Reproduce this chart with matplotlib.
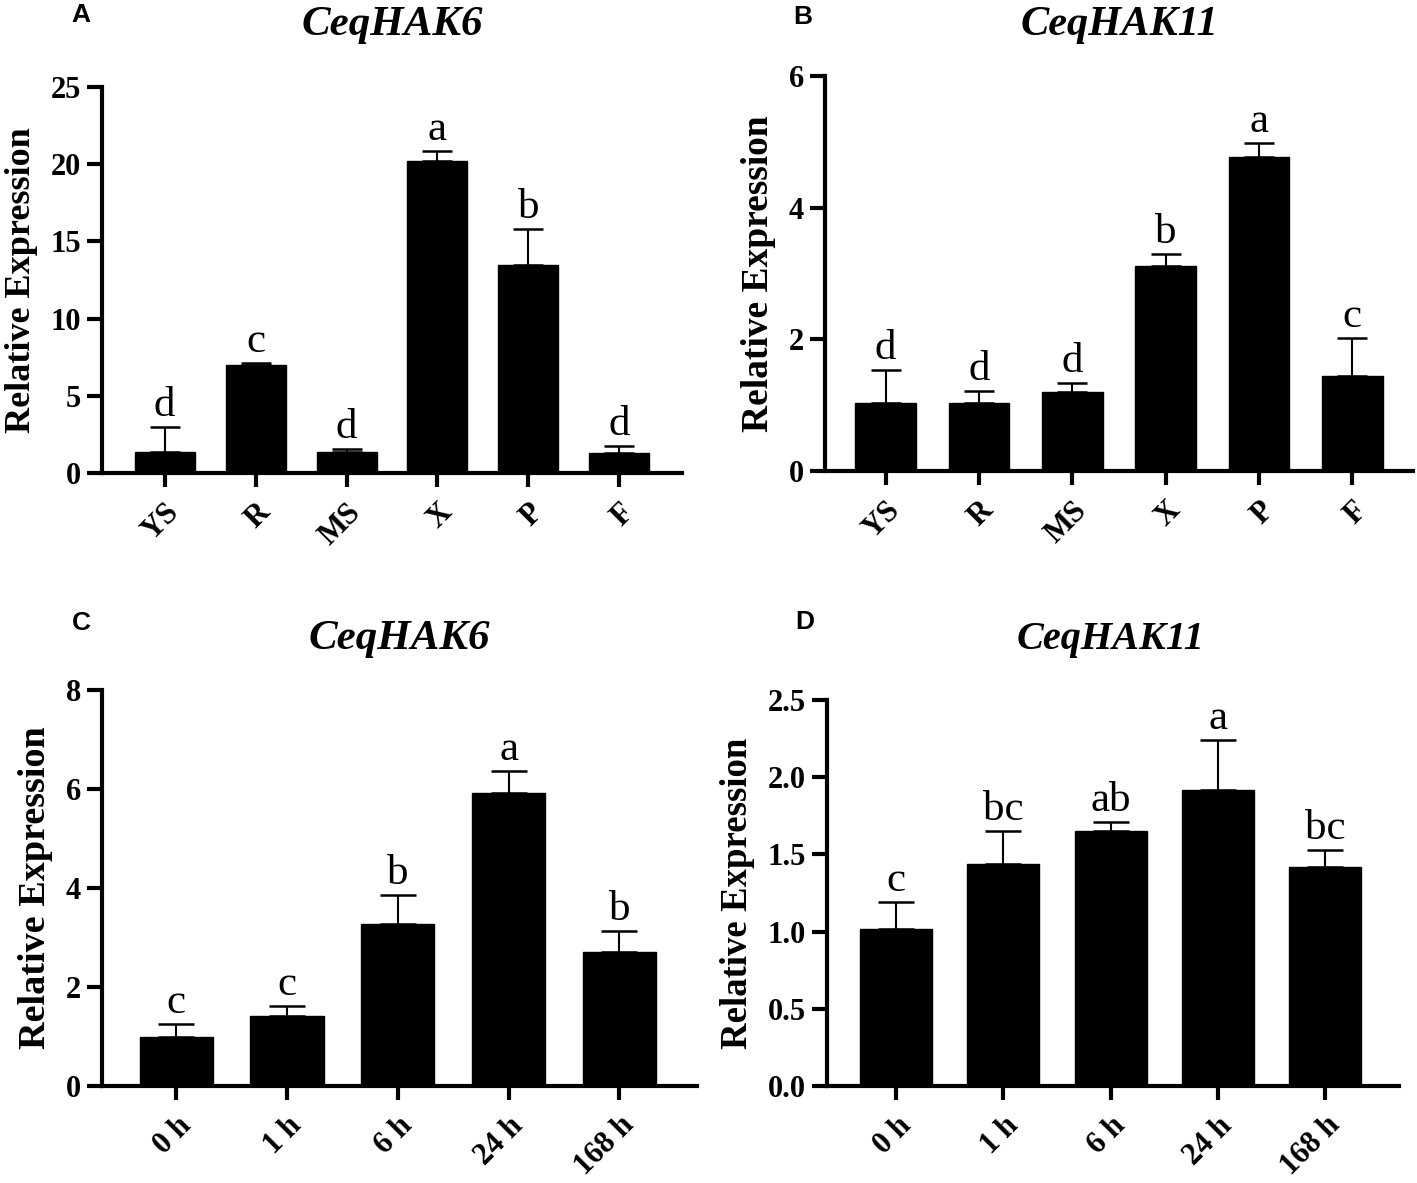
import matplotlib
matplotlib.use("Agg")
import matplotlib.pyplot as plt
import numpy as np

plt.rcParams["font.family"] = ["Liberation Serif", "DejaVu Serif"]

tissues = ["YS", "R", "MS", "X", "P", "F"]
times = ["0 h", "1 h", "6 h", "24 h", "168 h"]

# panel A: CeqHAK6 in tissues
hak6_tissue = [1.38, 7.0, 1.38, 20.2, 13.5, 1.28]
hak6_tissue_err = [1.6, 0.13, 0.2, 0.65, 2.3, 0.48]
hak6_tissue_sig = ["d", "c", "d", "a", "b", "d"]

# panel B: CeqHAK11 in tissues
hak11_tissue = [1.04, 1.03, 1.2, 3.11, 4.77, 1.45]
hak11_tissue_err = [0.49, 0.19, 0.13, 0.19, 0.21, 0.57]
hak11_tissue_sig = ["d", "d", "d", "b", "a", "c"]

# panel C: CeqHAK6 over time
hak6_time = [1.0, 1.42, 3.27, 5.92, 2.71]
hak6_time_err = [0.25, 0.2, 0.58, 0.45, 0.42]
hak6_time_sig = ["c", "c", "b", "a", "b"]

# panel D: CeqHAK11 over time
hak11_time = [1.02, 1.44, 1.65, 1.92, 1.42]
hak11_time_err = [0.17, 0.21, 0.06, 0.32, 0.11]
hak11_time_sig = ["c", "bc", "ab", "a", "bc"]

W, H = 1417, 1183
fig = plt.figure(figsize=(W / 100, H / 100), dpi=100)


def px_axes(l, r, t, b):
    return fig.add_axes([l / W, 1 - b / H, (r - l) / W, (b - t) / H])


def bar_panel(ax, labels, vals, errs, sig, ymax, yticks, xlim, width,
              capsize, ylab_size, fmt=None):
    x = np.arange(len(labels))
    ax.bar(x, vals, width=width, color="black", edgecolor="black", zorder=2)
    ax.errorbar(x, vals, yerr=[np.zeros(len(vals)), errs], fmt="none",
                ecolor="black", elinewidth=1.5, capsize=capsize,
                capthick=1.8, zorder=3)
    for xi, v, e, s in zip(x, vals, errs, sig):
        ax.annotate(s, (xi, v + e), xytext=(0, 1.5), textcoords="offset points",
                    ha="center", va="bottom", fontsize=31)
    ax.set_xlim(*xlim)
    ax.set_ylim(0, ymax)
    ax.set_yticks(yticks)
    if fmt:
        ax.set_yticklabels([fmt.format(t) for t in yticks])
    ax.set_xticks(x)
    ax.set_xticklabels(labels, rotation=45, ha="right", rotation_mode="anchor")
    for s in ["top", "right"]:
        ax.spines[s].set_visible(False)
    for s in ["left", "bottom"]:
        ax.spines[s].set_linewidth(3)
    ax.tick_params(width=3, length=11, labelsize=22, pad=4)
    ax.tick_params(axis="x", length=10, pad=8)
    for lab in ax.get_xticklabels() + ax.get_yticklabels():
        lab.set_fontweight("bold")
    ax.set_ylabel("Relative Expression", fontsize=ylab_size, fontweight="bold",
                  labelpad=9)


axA = px_axes(102, 682, 87, 473)
bar_panel(axA, tissues, hak6_tissue, hak6_tissue_err, hak6_tissue_sig, 25,
          [0, 5, 10, 15, 20, 25], (-0.69, 5.69), 0.66, 10.8, 26)

axB = px_axes(825, 1413, 76, 471)
bar_panel(axB, tissues, hak11_tissue, hak11_tissue_err, hak11_tissue_sig, 6,
          [0, 2, 4, 6], (-0.65, 5.65), 0.65, 11, 27)

axC = px_axes(102, 697, 690, 1086)
bar_panel(axC, times, hak6_time, hak6_time_err, hak6_time_sig, 8,
          [0, 2, 4, 6, 8], (-0.67, 4.70), 0.66, 13.1, 27.5)

axD = px_axes(827, 1399, 700, 1086)
bar_panel(axD, times, hak11_time, hak11_time_err, hak11_time_sig, 2.5,
          [0, 0.5, 1.0, 1.5, 2.0, 2.5], (-0.645, 4.69), 0.67, 13, 26.5,
          fmt="{:.1f}")

titles = ["CeqHAK6", "CeqHAK11", "CeqHAK6", "CeqHAK11"]
title_pos = [(392, 35, 31), (1119, 35, 30.5), (399, 649, 31), (1111, 649, 29)]
for t, (px, py, fs) in zip(titles, title_pos):
    fig.text(px / W, 1 - py / H, t, fontsize=fs, fontweight="bold",
             style="italic", ha="center", va="baseline")

for letter, (px, py) in zip("ABCD", [(81, 15), (803, 17), (81, 623), (805, 622)]):
    fig.text(px / W, 1 - py / H, letter, fontsize=19, fontweight="bold",
             family=["Liberation Sans", "DejaVu Sans"], ha="center", va="center")

fig.savefig("out.png", dpi=100)
